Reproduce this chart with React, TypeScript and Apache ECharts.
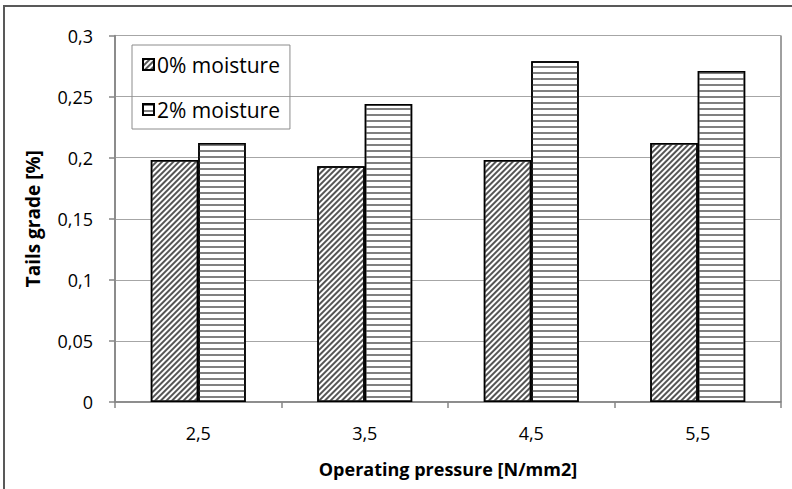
import React, { useEffect, useRef } from "react";
import * as echarts from "echarts";

const categories = ["2,5", "3,5", "4,5", "5,5"];
const moisture0 = [0.198, 0.193, 0.198, 0.212];
const moisture2 = [0.212, 0.244, 0.279, 0.271];
const seriesNames = ["0% moisture", "2% moisture"];
const xTitle = "Operating pressure [N/mm2]";
const yTitle = "Tails grade [%]";

const FONT = "Open Sans";

export default function App() {
  const ref = useRef<HTMLDivElement>(null);
  useEffect(() => {
    document.body.style.margin = "0";
    const chart = echarts.init(ref.current!, null, { renderer: "svg" });
    chart.setOption({
      animation: false,
      backgroundColor: "#ffffff",
      textStyle: { fontFamily: FONT, color: "#000" },
      graphic: [
        {
          type: "rect",
          shape: { x: 4, y: 6, width: 820, height: 520 },
          style: { fill: "none", stroke: "#595959", lineWidth: 2 },
          silent: true,
        },
      ],
      grid: {
        left: 115,
        right: 11,
        top: 35.5,
        bottom: 87,
        show: true,
        borderColor: "#404040",
        borderWidth: 1,
        backgroundColor: "transparent",
      },
      legend: {
        orient: "vertical",
        left: 132,
        top: 45,
        padding: [9, 10, 9, 10],
        itemGap: 24,
        itemWidth: 11,
        itemHeight: 11,
        icon: "rect",
        borderColor: "#8c8c8c",
        borderWidth: 1,
        textStyle: { fontFamily: FONT, fontSize: 21, color: "#000", padding: [0, 0, 0, -2] },
        data: seriesNames,
      },
      xAxis: {
        type: "category",
        data: categories,
        name: xTitle,
        nameLocation: "middle",
        nameGap: 58,
        nameTextStyle: { fontFamily: FONT, fontSize: 18, fontWeight: "bold", color: "#000" },
        axisLine: { lineStyle: { color: "#868686", width: 1.5 } },
        axisTick: { show: true, length: 6, lineStyle: { color: "#868686", width: 1.5 } },
        axisLabel: { fontFamily: FONT, fontSize: 18, color: "#000", margin: 22 },
        splitLine: { show: false },
      },
      yAxis: {
        type: "value",
        min: 0,
        max: 0.3,
        interval: 0.05,
        name: yTitle,
        nameLocation: "middle",
        nameGap: 73,
        nameTextStyle: { fontFamily: FONT, fontSize: 19, fontWeight: "bold", color: "#000" },
        axisLine: { show: true, lineStyle: { color: "#868686", width: 1.5 } },
        axisTick: { show: true, length: 6, lineStyle: { color: "#868686", width: 1.5 } },
        axisLabel: {
          fontFamily: FONT,
          fontSize: 18,
          color: "#000",
          margin: 22,
          formatter: (v: number) => String(Math.round(v * 100) / 100).replace(".", ","),
        },
        splitLine: { show: true, lineStyle: { color: "#a6a6a6", width: 1.2 } },
      },
      series: [
        {
          name: seriesNames[0],
          type: "bar",
          data: moisture0,
          barWidth: "28.5%",
          barGap: "0%",
          itemStyle: {
            color: "#ffffff",
            borderColor: "#000",
            borderWidth: 1.5,
            decal: {
              symbol: "rect",
              symbolSize: 1,
              color: "#555555",
              dashArrayX: [1, 0],
              dashArrayY: [1.5, 1.5],
              rotation: -Math.PI / 4,
            },
          },
        },
        {
          name: seriesNames[1],
          type: "bar",
          data: moisture2,
          barWidth: "28.5%",
          barGap: "0%",
          itemStyle: {
            color: "#ffffff",
            borderColor: "#000",
            borderWidth: 1.5,
            decal: {
              symbol: "rect",
              symbolSize: 1,
              color: "#808080",
              dashArrayX: [1, 0],
              dashArrayY: [2, 4],
              rotation: 0,
            },
          },
        },
      ],
    });
    return () => chart.dispose();
  }, []);
  return <div ref={ref} style={{ width: 792, height: 489 }} />;
}
